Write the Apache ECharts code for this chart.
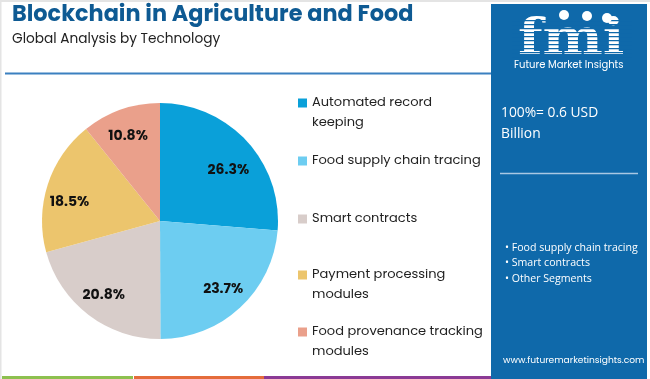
<!DOCTYPE html>
<html>
<head>
<meta charset="utf-8">
<script src="https://cdn.jsdelivr.net/npm/echarts@6/dist/echarts.min.js"></script>
<style>
html,body{margin:0;padding:0;background:#fff;}
#chart{width:650px;height:379px;}
</style>
</head>
<body>
<div id="chart"></div>
<script>
const categories = ['Automated record keeping','Food supply chain tracing','Smart contracts','Payment processing modules','Food provenance tracking modules'];
const legendLabels = ['Automated record\nkeeping','Food supply chain tracing','Smart contracts','Payment processing\nmodules','Food provenance tracking\nmodules'];
const values = [26.3, 23.7, 20.8, 18.5, 10.8];
const colors = ['#0aa0d9','#6dcdf1','#d8cdca','#ecc56d','#eaa08b'];
const panelBullets = ['Food supply chain tracing','Smart contracts','Other Segments'];
const titleText = 'Blockchain in Agriculture and Food';
const subtitleText = 'Global Analysis by Technology';
const totalText = '100%= 0.6 USD\nBillion';

const chart = echarts.init(document.getElementById('chart'), null, {renderer:'canvas'});
const FONT = 'Poppins, Lato, "Open Sans", sans-serif';
const SANS = '"Open Sans", "Noto Sans", sans-serif';
const PANEL = '#0f69aa';
const pieData = categories.map((c,i)=>({name:c, value:values[i], itemStyle:{color:colors[i]}}));
const legendTops = [73, 151, 209, 245, 302];
const labelOffsets = [[0,13],[0,0],[0,0],[-2,10],[-1,3]];
const legends = categories.map((c,i)=>{
  const twoLine = legendLabels[i].indexOf('\n')>=0;
  return {
    data:[c], orient:'vertical', left:298, top:legendTops[i], padding:0,
    itemWidth:9, itemHeight:9, itemGap:0, selectedMode:false,
    icon:'rect',
    formatter: ()=> (twoLine ? '\n' : '') + legendLabels[i],
    textStyle:{fontFamily:FONT, fontSize:13, color:'#222', lineHeight:20}
  };
});

const stripes = [];
for (let y = 20; y <= 56; y += 4) {
  stripes.push({type:'rect', shape:{x:512,y:y,width:120,height:1.2}, style:{fill:PANEL}, z:10});
}

const option = {
  backgroundColor:'#fff',
  animation:false,
  title:[
    {text:titleText, left:12, top:4, padding:0, textStyle:{fontFamily:FONT, fontWeight:'bold', fontSize:22.4, color:'#0e5a93'}},
    {text:subtitleText, left:12, top:33, padding:0, textStyle:{fontFamily:FONT, fontWeight:'normal', fontSize:13.7, color:'#222'}}
  ],
  legend: legends,
  graphic:[
    {type:'rect', shape:{x:0,y:0,width:650,height:2}, style:{fill:'#e4e4e4'}},
    {type:'rect', shape:{x:0,y:0,width:1.5,height:379}, style:{fill:'#e4e4e4'}},
    {type:'line', shape:{x1:5,y1:73.5,x2:491,y2:73.5}, style:{stroke:'#3b80c0', lineWidth:2}},
    {type:'rect', shape:{x:491,y:4,width:156,height:375}, style:{fill:PANEL}},
    {type:'rect', shape:{x:2,y:376,width:131,height:3}, style:{fill:'#8dc04f'}},
    {type:'rect', shape:{x:134,y:376,width:130,height:3}, style:{fill:'#e46c3b'}},
    {type:'rect', shape:{x:264,y:376,width:227,height:3}, style:{fill:'#8b3a95'}},
    {type:'text', x:518, y:16.5, scaleX:1.14, z:5, style:{text:'fmi', fill:'#fff', font:'bold 50px "DejaVu Serif", serif', verticalAlign:'top', align:'left'}},
    ...stripes,
    {type:'circle', shape:{cx:564,cy:15,r:5}, style:{fill:'#fff'}, z:11},
    {type:'circle', shape:{cx:587,cy:16,r:5}, style:{fill:'#fff'}, z:11},
    {type:'circle', shape:{cx:607,cy:18,r:5}, style:{fill:'#fff'}, z:11},
    {type:'text', left:514, top:60, style:{text:'Future Market Insights', fill:'#fff', font:'10px '+FONT}},
    {type:'text', left:501, top:103, style:{text:totalText, fill:'#fff', font:'13.8px '+SANS, lineHeight:21}},
    {type:'line', shape:{x1:500,y1:173.5,x2:638,y2:173.5}, style:{stroke:'#a9c8e3', lineWidth:1.5}},
    {type:'text', left:505, top:240, style:{text:panelBullets.map(b=>'\u2022 '+b).join('\n'), fill:'#fff', font:'10.6px '+SANS, lineHeight:15.5}},
    {type:'text', left:503, top:356, style:{text:'www.futuremarketinsights.com', fill:'#fff', font:'9.1px '+FONT}}
  ],
  series:[
    {
      type:'pie', center:[160,221], radius:[0,118], startAngle:90, clockwise:true,
      data:pieData, label:{show:false}, labelLine:{show:false}, silent:true
    },
    {
      type:'pie', center:[160,221], radius:[62,118], startAngle:90, clockwise:true,
      data:categories.map((c,i)=>({name:c, value:values[i], label:{offset:labelOffsets[i]}})),
      itemStyle:{color:'rgba(0,0,0,0)'}, silent:true,
      label:{show:true, position:'inside', formatter:p=>p.value.toFixed(1)+'%', fontFamily:FONT, fontWeight:'bold', fontSize:14, color:'#111'},
      labelLine:{show:false}
    }
  ]
};
chart.setOption(option);
</script>
</body>
</html>
